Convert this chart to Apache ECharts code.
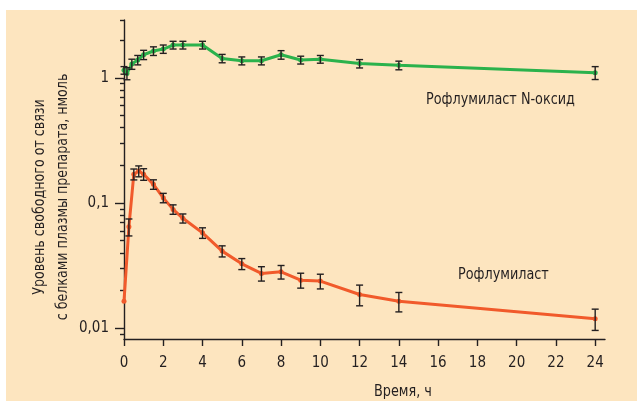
<!DOCTYPE html>
<html><head><meta charset="utf-8">
<script src="https://cdn.jsdelivr.net/npm/echarts@6/dist/echarts.min.js"></script>
<style>html,body{margin:0;padding:0;background:#fff;}#c{position:absolute;left:6px;top:10px;width:631px;height:391px;}</style>
</head><body><div id="c"></div>
<script>
// --- data ---
const times = [0, 0.25, 0.5, 0.75, 1, 1.5, 2, 2.5, 3, 4, 5, 6, 7, 8, 9, 10, 12, 14, 24];
const timesN = [0, 0.15, 0.4, 0.7, 1, 1.5, 2, 2.5, 3, 4, 5, 6, 7, 8, 9, 10, 12, 14, 24];
const roflumilast = [0.0164, 0.0646, 0.170, 0.180, 0.170, 0.141, 0.110, 0.089, 0.0755, 0.0578, 0.0413, 0.0327, 0.0274, 0.0282, 0.0242, 0.0238, 0.0186, 0.0164, 0.0119];
const roflumilastSD = [0, 0.010, 0.017, 0.018, 0.018, 0.0123, 0.0095, 0.0077, 0.0063, 0.0056, 0.0042, 0.0033, 0.0036, 0.0035, 0.0033, 0.0032, 0.0035, 0.0029, 0.0023];
const nOxide = [1.15, 1.086, 1.29, 1.39, 1.53, 1.64, 1.70, 1.83, 1.83, 1.83, 1.43, 1.37, 1.37, 1.53, 1.39, 1.41, 1.30, 1.26, 1.10];
const nOxideSD = [0.08, 0.12, 0.12, 0.12, 0.13, 0.13, 0.13, 0.13, 0.13, 0.13, 0.11, 0.10, 0.10, 0.12, 0.10, 0.10, 0.10, 0.10, 0.13];
const xTicks = [0, 2, 4, 6, 8, 10, 12, 14, 16, 18, 20, 22, 24];
const yMajor = [0.01, 0.1, 1];
const yMinor = [0.009, 0.02, 0.03, 0.04, 0.05, 0.06, 0.07, 0.08, 0.09, 0.2, 0.3, 0.4, 0.5, 0.6, 0.7, 0.8, 0.9, 2, 2.9];
const xTitle = 'Время, ч';
const yTitle = ['Уровень свободного от связи', 'с белками плазмы препарата, нмоль'];
const nameRof = 'Рофлумиласт';
const nameNOx = 'Рофлумиласт N-оксид';

const FONT = "'Liberation Sans Narrow', 'DejaVu Sans Condensed', 'Roboto Condensed', sans-serif";
const INK = '#231f20';
const GREEN = '#2bb24c';
const RED = '#f15a2b';

function pairs(xs, ys) { return xs.map((x, i) => [x, ys[i]]); }
function bars(xs, ys, sd) {
  const out = [];
  xs.forEach((x, i) => { if (sd[i] > 0) out.push([x, ys[i] - sd[i], ys[i] + sd[i]]); });
  return out;
}
function errRender(params, api) {
  const x = api.value(0);
  const a = api.coord([x, api.value(1)]);
  const b = api.coord([x, api.value(2)]);
  const w = 3.5;
  const st = { stroke: INK, lineWidth: 1.4 };
  return { type: 'group', children: [
    { type: 'line', shape: { x1: a[0], y1: a[1], x2: b[0], y2: b[1] }, style: st },
    { type: 'line', shape: { x1: a[0] - w, y1: a[1], x2: a[0] + w, y2: a[1] }, style: st },
    { type: 'line', shape: { x1: b[0] - w, y1: b[1], x2: b[0] + w, y2: b[1] }, style: st }
  ]};
}
const fmt = v => String(Number(Number(v).toPrecision(3))).replace('.', ',');
const SX = 0.89;

const chart = echarts.init(document.getElementById('c'));
chart.setOption({
  backgroundColor: '#fde5bf',
  animation: false,
  grid: { left: 118, top: 10, right: 32, bottom: 62 },
  xAxis: {
    type: 'value', min: 0, max: 24.5,
    axisLine: { show: true, onZero: false, lineStyle: { color: INK, width: 1.4 } },
    axisTick: { show: true, customValues: xTicks, length: 7, lineStyle: { color: INK, width: 1.4 } },
    axisLabel: { customValues: xTicks, margin: 17, fontSize: 15, color: INK, fontFamily: FONT },
    splitLine: { show: false }
  },
  yAxis: [
    {
      type: 'log', logBase: 10, min: 0.0082, max: 2.9, position: 'left',
      axisLine: { show: true, lineStyle: { color: INK, width: 1.4 } },
      axisTick: { show: true, customValues: yMajor, length: 9, lineStyle: { color: INK, width: 1.4 } },
      axisLabel: { customValues: yMajor, formatter: fmt, margin: 15, fontSize: 15, color: INK, fontFamily: FONT },
      splitLine: { show: false }
    },
    {
      type: 'log', logBase: 10, min: 0.0082, max: 2.9, position: 'left', offset: 0,
      axisLine: { show: false },
      axisTick: { show: true, customValues: yMinor, length: 4, lineStyle: { color: INK, width: 1.4 } },
      axisLabel: { show: false },
      splitLine: { show: false }
    }
  ],
  series: [
    {
      type: 'line', name: nameNOx, data: pairs(timesN, nOxide), yAxisIndex: 0,
      lineStyle: { color: GREEN, width: 3 }, itemStyle: { color: GREEN },
      symbol: 'circle', symbolSize: 5, z: 2
    },
    {
      type: 'line', name: nameRof, data: pairs(times, roflumilast), yAxisIndex: 0,
      lineStyle: { color: RED, width: 3 }, itemStyle: { color: RED },
      symbol: 'circle', symbolSize: 5, z: 2
    },
    {
      type: 'custom', data: bars(timesN, nOxide, nOxideSD), yAxisIndex: 0,
      encode: { x: 0, y: [1, 2] }, renderItem: errRender, z: 3
    },
    {
      type: 'custom', data: bars(times, roflumilast, roflumilastSD), yAxisIndex: 0,
      encode: { x: 0, y: [1, 2] }, renderItem: errRender, z: 3
    }
  ],
  graphic: [
    { type: 'text', x: 420, y: 90, scaleX: SX, style: { text: nameNOx, fill: INK, font: '16px ' + FONT, align: 'left', verticalAlign: 'middle' } },
    { type: 'text', x: 452, y: 265, scaleX: SX, style: { text: nameRof, fill: INK, font: '16px ' + FONT, align: 'left', verticalAlign: 'middle' } },
    { type: 'text', x: 397, y: 382, scaleX: SX, style: { text: xTitle, fill: INK, font: '16px ' + FONT, align: 'center', verticalAlign: 'middle' } },
    { type: 'text', x: 45, y: 187, rotation: Math.PI / 2, scaleX: 0.88, style: { text: yTitle.join('\n'), fill: INK, font: '16px ' + FONT, align: 'center', verticalAlign: 'middle', lineHeight: 23 } }
  ]
});
</script></body></html>
